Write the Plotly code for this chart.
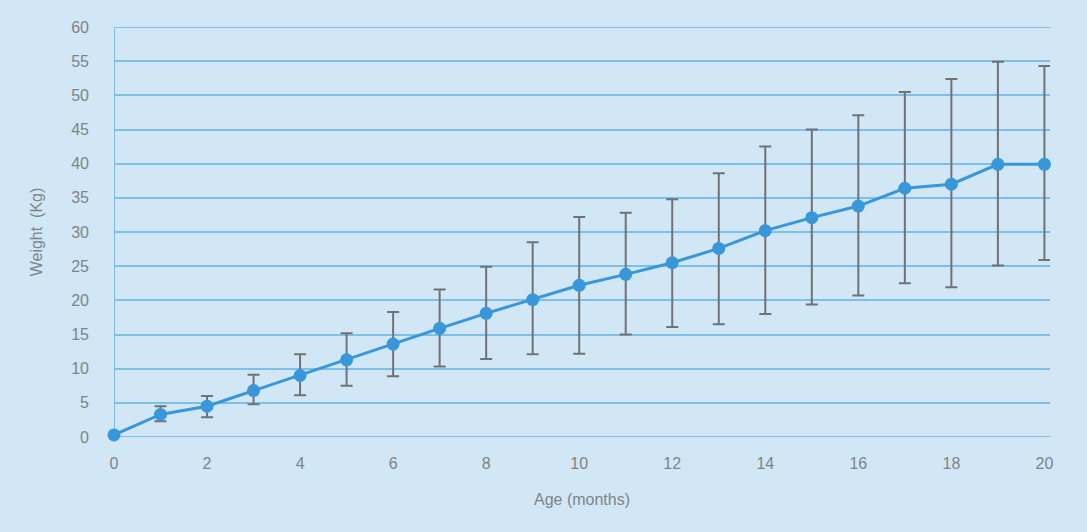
import plotly.graph_objects as go

# age in months and mean weight with its error range
age_months = [0, 1, 2, 3, 4, 5, 6, 7, 8, 9, 10, 11, 12, 13, 14, 15, 16, 17, 18, 19, 20]
weight_kg = [0.3, 3.3, 4.5, 6.8, 9.0, 11.3, 13.6, 15.9, 18.1, 20.1, 22.2, 23.8, 25.5,
             27.6, 30.2, 32.1, 33.8, 36.4, 37.0, 39.9, 39.9]
weight_high = [0.3, 4.5, 6.0, 9.1, 12.1, 15.2, 18.3, 21.6, 24.9, 28.5, 32.2, 32.8, 34.8,
               38.6, 42.5, 45.0, 47.1, 50.5, 52.4, 54.9, 54.3]
weight_low = [0.3, 2.3, 2.9, 4.8, 6.1, 7.5, 8.9, 10.3, 11.4, 12.1, 12.2, 15.0, 16.1,
              16.5, 18.0, 19.4, 20.7, 22.5, 21.9, 25.1, 25.9]

x_ticks = list(range(0, 21, 2))
y_ticks = list(range(0, 61, 5))

err_plus = [h - w for h, w in zip(weight_high, weight_kg)]
err_minus = [w - l for w, l in zip(weight_kg, weight_low)]

bg = "#d1e7f5"
grid_blue = "#7dbfe6"
line_blue = "#3897db"
text_grey = "#7e8488"

fig = go.Figure()
fig.add_trace(go.Scatter(
    x=age_months,
    y=weight_kg,
    mode="lines+markers",
    line=dict(color=line_blue, width=3),
    marker=dict(color=line_blue, size=13),
    error_y=dict(type="data", symmetric=False, array=err_plus, arrayminus=err_minus,
                 color="#6f7376", thickness=2, width=6),
    cliponaxis=False,
    showlegend=False,
))

# page body adds 8px, so the figure is a bit smaller and shifted margins
fig.update_layout(
    width=1079,
    height=524,
    margin=dict(l=106, r=37, t=19, b=95),
    plot_bgcolor=bg,
    paper_bgcolor=bg,
    font=dict(family="Liberation Sans, Arial, sans-serif", size=16, color=text_grey),
)

fig.update_xaxes(
    range=[0, 20.12],
    tickvals=x_ticks,
    showgrid=False,
    zeroline=False,
    showline=False,
    ticks="",
    ticklabelstandoff=15,
    title=dict(text="Age (months)", standoff=22, font=dict(size=16)),
)
fig.update_yaxes(
    range=[0, 60],
    tickvals=y_ticks,
    showgrid=True,
    gridcolor=grid_blue,
    gridwidth=2,
    zeroline=False,
    showline=False,
    ticks="",
    ticklabelstandoff=24,
    title=dict(text="Weight  (Kg)", standoff=24, font=dict(size=16)),
)
# left axis line plus the bottom and top gridlines plotly leaves out at the edges
fig.add_shape(type="line", xref="x", yref="paper", x0=0, x1=0, y0=0, y1=1,
              line=dict(color=grid_blue, width=2), layer="below")
for yv in (y_ticks[0], y_ticks[-1]):
    fig.add_shape(type="line", xref="paper", yref="y", x0=0, x1=1, y0=yv, y1=yv,
                  line=dict(color=grid_blue, width=2), layer="below")

# fill the page margin with the same light blue
fig.write_html("out.html", post_script="document.body.style.background='%s';" % bg)
